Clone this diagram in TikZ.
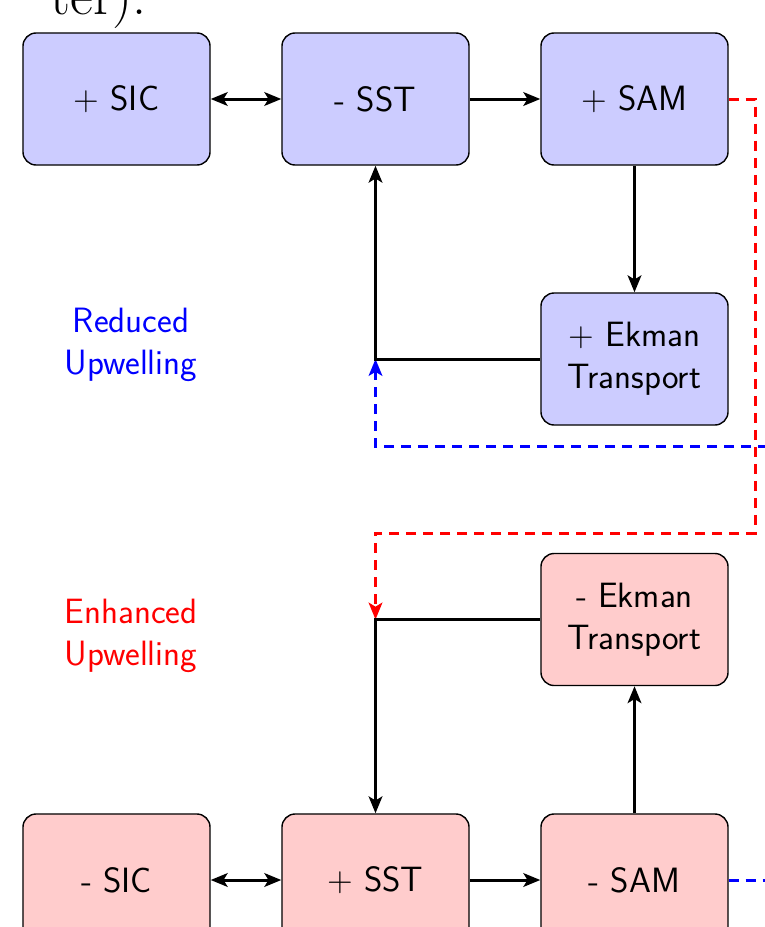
\documentclass[tikz,border=0pt]{standalone}
\usepackage{fontspec}
\usetikzlibrary{arrows.meta}

\tikzset{
  box/.style={draw=black, line width=1pt, rounded corners=0.33cm,
    minimum width=4.675cm, minimum height=3.3cm, align=center,
    font=\sffamily\fontsize{25}{29.6}\selectfont},
  cool/.style={box, fill=blue!20},
  warm/.style={box, fill=red!20},
  tip/.style={line width=0.075cm, -{Stealth[length=0.42cm,width=0.34cm,inset=0.1cm]}},
  both/.style={line width=0.075cm,
    {Stealth[length=0.42cm,width=0.34cm,inset=0.1cm]}-{Stealth[length=0.42cm,width=0.34cm,inset=0.1cm]}},
  link/.style={tip, dash pattern=on 0.25cm off 0.175cm},
  tag/.style={align=center, font=\sffamily\fontsize{25}{29.6}\selectfont}
}

\begin{document}
\begin{tikzpicture}[x=0.025cm, y=-0.025cm]
\useasboundingbox (0,0) rectangle (764,927);

% end of the running text above
\node[anchor=base west, inner sep=0, font=\fontsize{40}{48}\selectfont] (frag) at (50,14) {ter).};

% upper loop
\node[cool] (sic) at (116.5,99) {+ SIC};
\node[cool] (sst) at (375.5,99) {- SST};
\node[cool] (sam) at (634.5,99) {+ SAM};
\node[cool] (ekm) at (634.5,359) {+ Ekman\\Transport};
\node[tag, blue] (reduced) at (131,345) {Reduced\\Upwelling};

% lower loop
\node[warm] (ekmb) at (634.5,619.5) {- Ekman\\Transport};
\node[warm] (sicb) at (116.5,880) {- SIC};
\node[warm] (sstb) at (375.5,880) {+ SST};
\node[warm] (samb) at (634.5,880) {- SAM};
\node[tag, red] (enhanced) at (131,636) {Enhanced\\Upwelling};

\coordinate (topjoin) at (375.5,359);
\coordinate (botjoin) at (375.5,619.5);

% cross links
\draw[link, blue] (samb.east) -| (795,446) -| (topjoin);
\draw[link, red] (sam.east) -| (755,533) -| (botjoin);

\draw[both] (sic) -- (sst);
\draw[tip] (sst) -- (sam);
\draw[tip] (sam) -- (ekm);
\draw[tip] (topjoin -| ekm.west) -| (sst.south);

\draw[both] (sicb) -- (sstb);
\draw[tip] (sstb) -- (samb);
\draw[tip] (samb) -- (ekmb);
\draw[tip] (botjoin -| ekmb.west) -| (sstb.north);
\end{tikzpicture}
\end{document}
